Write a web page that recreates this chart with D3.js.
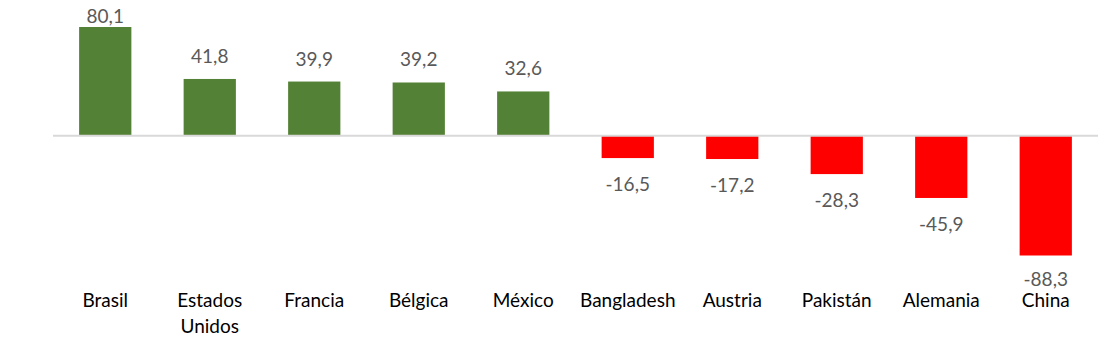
<!DOCTYPE html>
<html>
<head>
<meta charset="utf-8">
<script src="https://cdn.jsdelivr.net/npm/d3@7"></script>
<style>
  html, body { margin: 0; padding: 0; background: #fff; }
  svg { display: block; }
</style>
</head>
<body>
<svg id="chart" width="1099" height="343"></svg>
<script>
// Country balance (positive in green, negative in red)
const countries = ["Brasil", "Estados Unidos", "Francia", "Bélgica", "México",
                   "Bangladesh", "Austria", "Pakistán", "Alemania", "China"];
const values = [80.1, 41.8, 39.9, 39.2, 32.6, -16.5, -17.2, -28.3, -45.9, -88.3];
// Category labels broken onto lines
const labelLines = [["Brasil"], ["Estados", "Unidos"], ["Francia"], ["Bélgica"], ["México"],
                    ["Bangladesh"], ["Austria"], ["Pakistán"], ["Alemania"], ["China"]];

const width = 1099, height = 343;
const margin = { left: 53, right: 1 };
const font = "Lato, 'Open Sans', sans-serif";

const svg = d3.select("#chart");

const x = d3.scaleBand()
  .domain(countries)
  .range([margin.left, width - margin.right])
  .paddingInner(0.5)
  .paddingOuter(0.25);

const y = d3.scaleLinear()
  .domain([-88.3, 80.1])
  .range([255.5, 27]);

const fmt = v => d3.format(".1f")(v).replace(".", ",").replace("−", "-");

// Bars
svg.append("g").selectAll("rect")
  .data(values)
  .join("rect")
  .attr("x", (d, i) => x(countries[i]))
  .attr("width", x.bandwidth())
  .attr("y", d => y(Math.max(0, d)))
  .attr("height", d => Math.abs(y(d) - y(0)))
  .attr("fill", d => d >= 0 ? "#538135" : "#ff0000");

// Zero baseline
svg.append("line")
  .attr("x1", margin.left).attr("x2", width - margin.right)
  .attr("y1", y(0)).attr("y2", y(0))
  .attr("stroke", "#d9d9d9").attr("stroke-width", 2);

// Value labels: above positive bars (kept inside the top edge), below negative bars
svg.append("g").selectAll("text")
  .data(values)
  .join("text")
  .attr("x", (d, i) => x(countries[i]) + x.bandwidth() / 2)
  .attr("y", d => d >= 0 ? Math.max(y(d) - 16, 23) : Math.min(y(d) + 33, 286))
  .attr("text-anchor", "middle")
  .attr("font-family", font)
  .attr("font-size", 19)
  .attr("fill", "#595959")
  .text(d => fmt(d));

// Category labels
const cat = svg.append("g").selectAll("text")
  .data(labelLines)
  .join("text")
  .attr("x", (d, i) => x(countries[i]) + x.bandwidth() / 2)
  .attr("y", 307)
  .attr("text-anchor", "middle")
  .attr("font-family", font)
  .attr("font-size", 19)
  .attr("fill", "#000");

cat.selectAll("tspan")
  .data(d => d)
  .join("tspan")
  .attr("x", function () { return d3.select(this.parentNode).attr("x"); })
  .attr("dy", (d, i) => i === 0 ? 0 : 26)
  .text(d => d);
</script>
</body>
</html>
